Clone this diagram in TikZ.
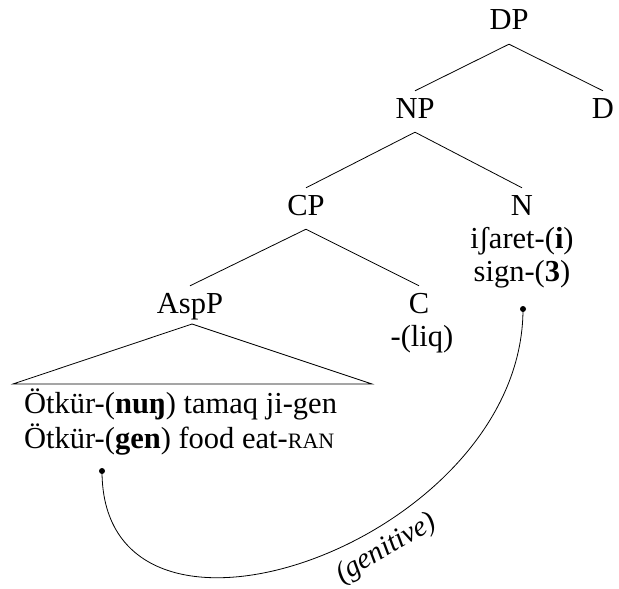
\documentclass[tikz,border=0pt]{standalone}
\usepackage{fontspec}
\setmainfont{Liberation Serif}
\begin{document}
\begin{tikzpicture}[x=1pt,y=-1pt,
  every node/.style={font=\fontsize{30.5}{35}\selectfont},
  cat/.style={inner sep=7pt, text height=20pt, text depth=7pt, anchor=base},
  lex/.style={inner sep=0pt, anchor=base},
  branch/.style={draw=black, line width=0.8pt},
  dotmark/.style={circle, fill=black, inner sep=0pt, minimum size=6pt}]
\useasboundingbox (0,0) rectangle (619,589);
% categories
\node[cat] (DP) at (509,30) {DP};
\node[cat] (NP) at (415,118) {NP};
\node[cat] (D) at (603,118) {D};
\node[cat] (CP) at (306,215) {CP};
\node[cat] (N) at (522,215) {N};
\node[lex] (Nl1) at (522,248) {iʃaret-(\textbf{i})};
\node[lex] (Nl2) at (522,281) {sign-(\textbf{3})};
\node[cat] (AspP) at (190,313) {AspP};
\node[cat] (C) at (419,313) {C};
\node[lex] (Cl) at (422,346) {-(liq)};
% branches
\draw[branch] (DP.south) -- (NP.north);
\draw[branch] (DP.south) -- (D.north);
\draw[branch] (NP.south) -- (CP.north);
\draw[branch] (NP.south) -- (N.north);
\draw[branch] (CP.south) -- (AspP.north);
\draw[branch] (CP.south) -- (C.north);
% triangle
\coordinate (apex) at (192,324);
\coordinate (bl) at (13,384);
\coordinate (br) at (372,384);
\draw[branch] (bl) -- (apex) -- (br) -- cycle;
% terminal string
\node[lex, anchor=base west] (L1) at (24,413) {Ötkür-(\textbf{nuŋ}) tamaq ji-gen};
\node[lex, anchor=base west] (L2) at (24,448) {Ötkür-(\textbf{gen}) food eat-{\fontsize{22}{22}\selectfont RAN}};
% dots and arc
\node[dotmark] (gdot) at (102,471) {};
\node[dotmark] (sdot) at (523,309) {};
\draw[line width=0.8pt] (gdot.center) .. controls (102,689) and (523,542) .. node[pos=0.6, sloped, below=9pt, inner sep=0pt, font=\fontsize{29}{34}\selectfont\itshape] (lab) {(genitive)} (sdot.center);
\end{tikzpicture}
\end{document}
